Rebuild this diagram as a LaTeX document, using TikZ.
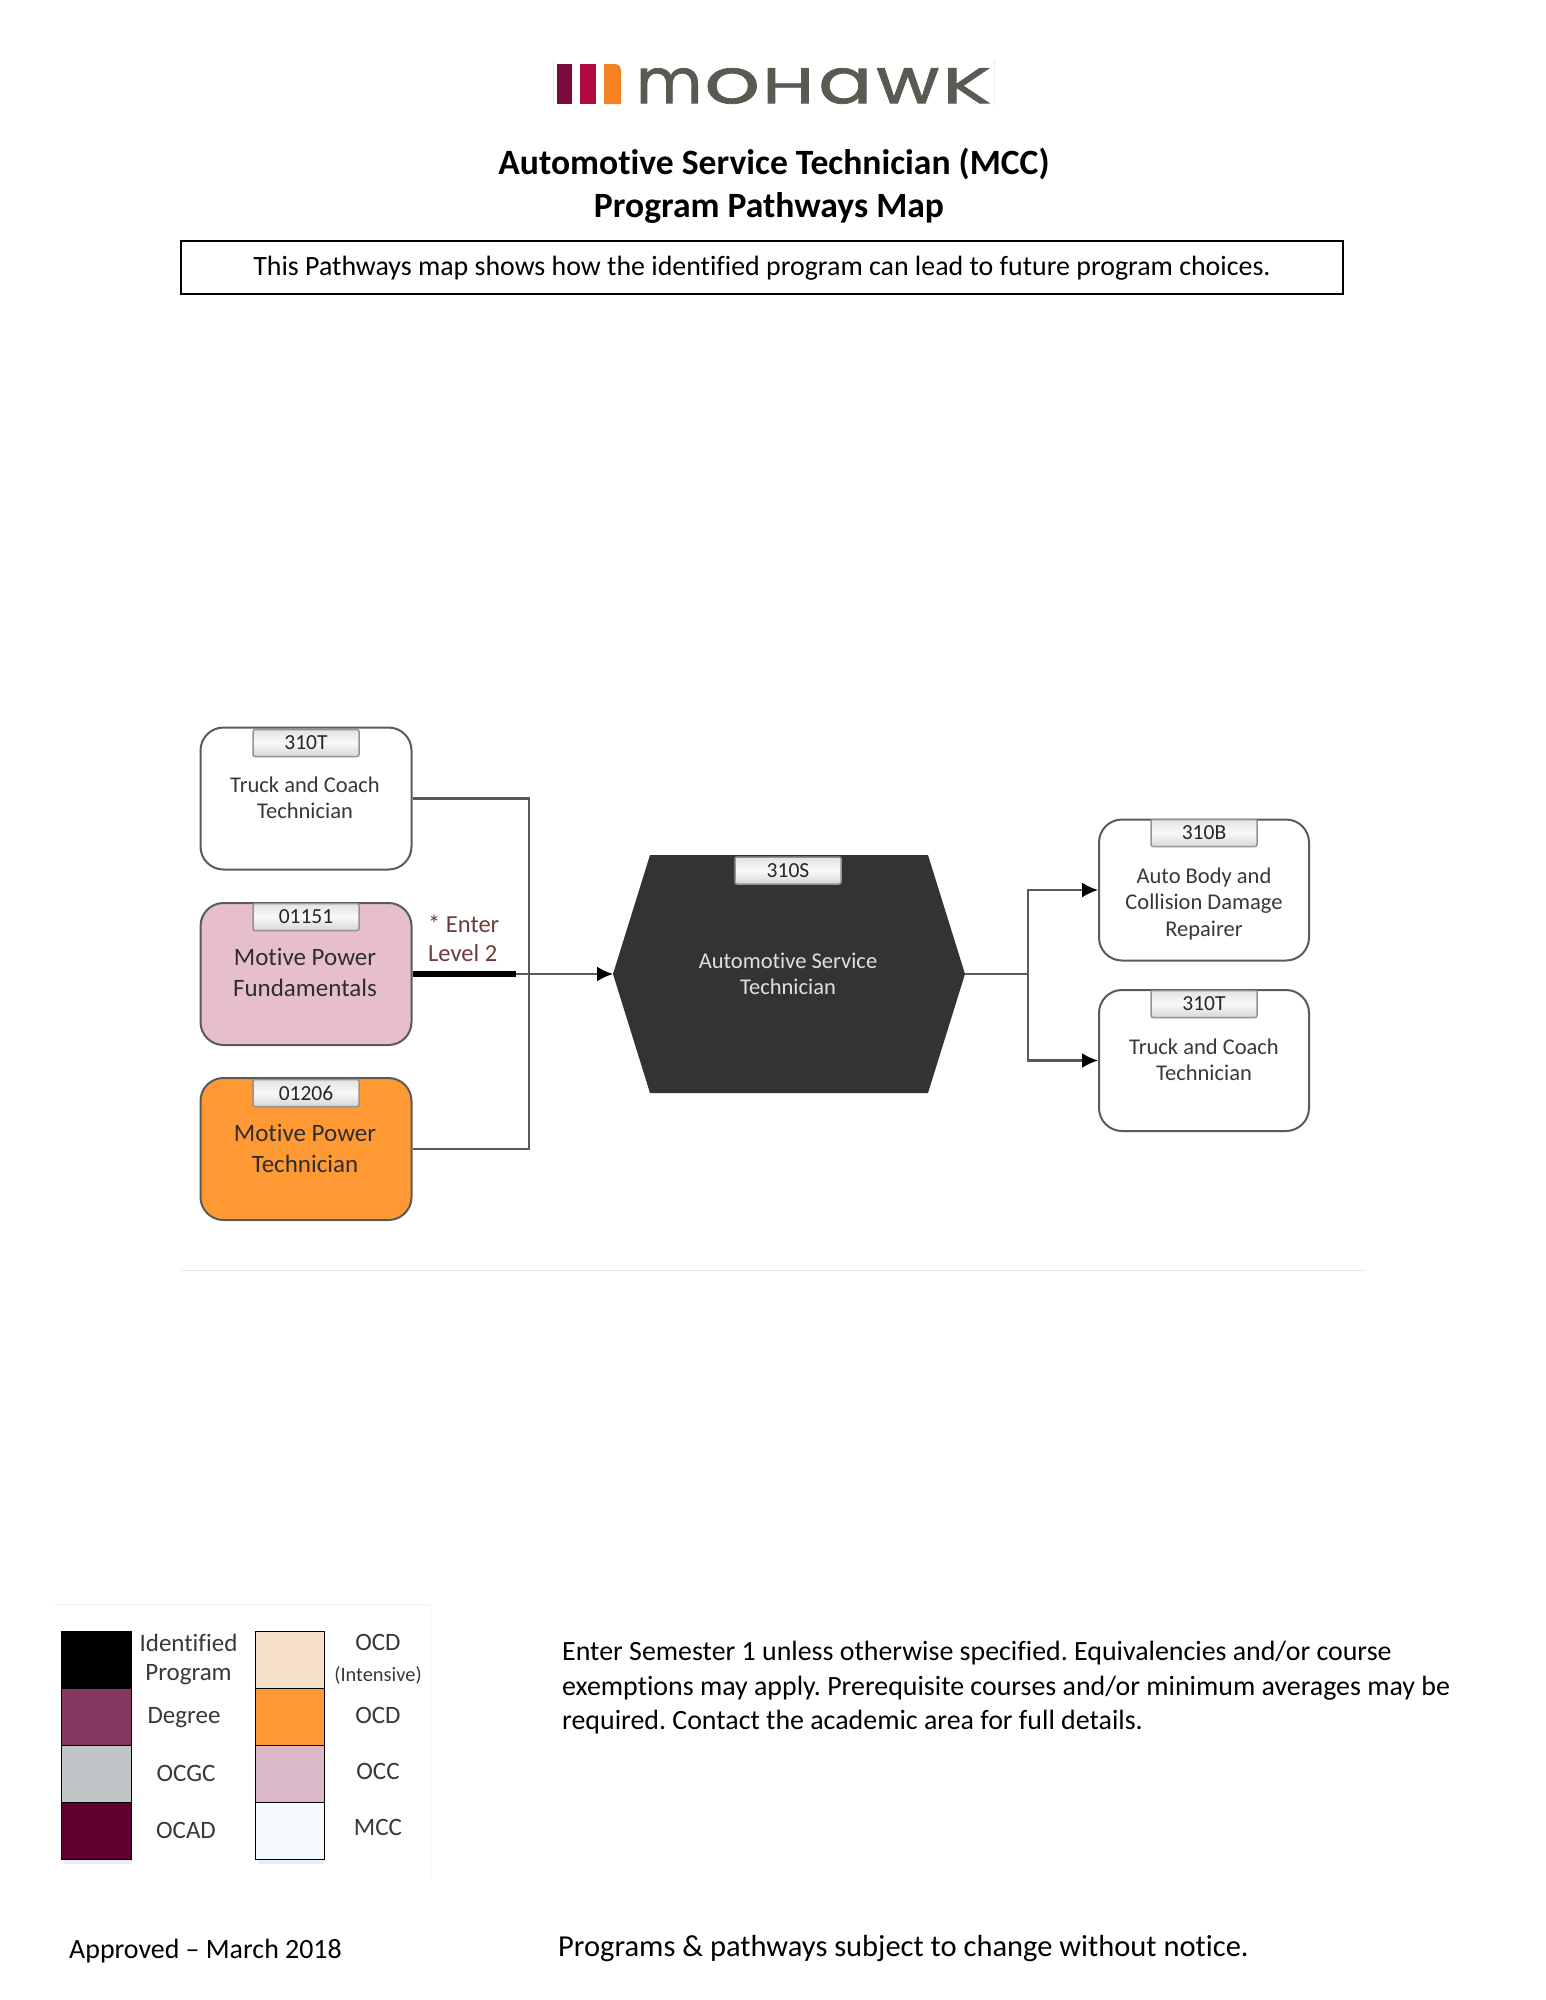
\documentclass[tikz,border=0pt]{standalone}
\usepackage{fontspec}
\usepackage{graphicx}
\setmainfont[RawFeature={-liga}]{Carlito}
\newfontfamily\logofont[FakeBold=1.2]{Poppins}
\frenchspacing
\usetikzlibrary{arrows.meta}
\definecolor{linegray}{HTML}{5A5A5A}
\definecolor{logogray}{HTML}{5B5A52}
\definecolor{logoplum}{HTML}{7A0A3C}
\definecolor{logored}{HTML}{B00A40}
\definecolor{logoorange}{HTML}{F58220}
\definecolor{fundpink}{HTML}{E6BECD}
\definecolor{techorange}{HTML}{FF9933}
\definecolor{hexdark}{HTML}{333333}
\definecolor{enterred}{HTML}{6E3B3B}
\definecolor{softblue}{HTML}{E4EEF8}
\tikzset{
  x=1pt,y=-1pt,
  progbox/.style={draw=linegray,line width=2pt,rounded corners=23pt,minimum width=211pt,minimum height=142pt,inner sep=0pt},
  tabbox/.style={draw=gray!85,line width=1.5pt,rounded corners=2pt,top color=gray!22,bottom color=gray!32,middle color=gray!5,minimum width=106pt,minimum height=27pt,inner sep=0pt,text=black!85,font=\fontsize{21.5}{21.5}\selectfont},
  boxtext/.style={align=center,inner sep=0pt,text=black!78,font=\fontsize{22.5}{26.5}\selectfont},
  bigtext/.style={align=center,inner sep=0pt,text=black!82,font=\fontsize{25}{31}\selectfont},
  flow/.style={draw=linegray,line width=2.1pt},
  flowarrow/.style={flow,-{Latex[length=16pt,width=15pt,color=black]}},
  swatch/.style={draw=black,line width=1.9pt,minimum width=70pt,minimum height=57pt,inner sep=0pt},
  legendtext/.style={inner sep=0pt,align=center,text=black!78,font=\fontsize{25}{25}\selectfont},
  bodytext/.style={inner sep=0pt,anchor=west,text=black,font=\fontsize{27.9}{27.9}\selectfont}
}
\begin{document}
\begin{tikzpicture}[x=1pt,y=-1pt]
\useasboundingbox (0,0) rectangle (1546,2000);
% logo
\draw[black!8,line width=0.8pt] (553,60) -- (553,106) (994,60) -- (994,106);
\fill[logoplum] (557,64) rectangle (572,104);
\fill[logored] (580,64) rectangle (596,104);
\fill[logoorange] (604,64) -- (614,64) .. controls (619,64) and (621,67) .. (621,71) -- (621,104) -- (604,104) -- cycle;
\node[inner sep=0pt,anchor=west,text=logogray] (logo) at (636,86) {\logofont
  \resizebox{66pt}{35pt}{m}\hspace{2pt}\resizebox{56pt}{35pt}{o}\hspace{2pt}\resizebox{52pt}{35pt}{H}\hspace{4pt}\resizebox{54pt}{35pt}{a}\hspace{4pt}\resizebox{63pt}{35pt}{w}\hspace{3pt}\resizebox{49pt}{35pt}{K}};
% titles
\node[inner sep=0pt,font=\fontsize{35.6}{35.6}\bfseries\selectfont] (t1) at (774,163.5) {Automotive Service Technician (MCC)};
\node[inner sep=0pt,font=\fontsize{35.6}{35.6}\bfseries\selectfont] (t2) at (769,208.5) {Program Pathways Map};
\node[draw=black,line width=2pt,minimum width=1162pt,minimum height=53pt,inner sep=0pt,text height=23pt,text depth=6pt,font=\fontsize{27.9}{27.9}\selectfont] (desc) at (762,267) {This Pathways map shows how the identified program can lead to future program choices.};
% left boxes
\node[progbox,fill=white] (b1) at (306,798.5) {};
\node[progbox,fill=fundpink] (b2) at (306,974) {};
\node[progbox,fill=techorange] (b3) at (306,1149) {};
\node[tabbox] (tb1) at (306,743) {310T};
\node[tabbox] (tb2) at (306,917) {01151};
\node[tabbox] (tb3) at (306,1093) {01206};
\node[boxtext] (lb1) at (305,798) {Truck and Coach\\Technician};
\node[bigtext] (lb2) at (305,972) {Motive Power\\Fundamentals};
\node[bigtext] (lb3) at (305,1148) {Motive Power\\Technician};
\node[inner sep=0pt,anchor=west,align=left,text=enterred,font=\fontsize{24.5}{29}\selectfont] (enter) at (428,938) {* Enter\\Level 2};
% hexagon
\coordinate (hexL) at (613,974);
\coordinate (hexR) at (965,974);
\fill[hexdark] (650,855) -- (928,855) -- (hexR) -- (928,1093) -- (650,1093) -- (hexL) -- cycle;
\node[tabbox] (tabhex) at (788,870.5) {310S};
\node[boxtext,text=white!88!black] (hexlabel) at (788,974) {Automotive Service\\Technician};
% right boxes
\node[progbox,minimum width=210pt,minimum height=141pt,fill=white] (r1) at (1204,890) {};
\node[progbox,minimum width=210pt,minimum height=141pt,fill=white] (r2) at (1204,1060.5) {};
\node[tabbox] (tr1) at (1204,833) {310B};
\node[tabbox] (tr2) at (1204,1004) {310T};
\node[boxtext] (lr1) at (1204,903.5) {Auto Body and\\Collision Damage\\Repairer};
\node[boxtext] (lr2) at (1204,1060) {Truck and Coach\\Technician};
% connectors
\coordinate (join) at (529,974);
\coordinate (thickend) at (516,974);
\coordinate (fork) at (1028,974);
\draw[flow] (b1.east) -| (join);
\draw[flow] (b3.east) -| (join);
\draw[flowarrow] (thickend) -- (hexL);
\draw[black,line width=6.5pt] (b2.east) -- (thickend);
\draw[flow] (hexR) -- (fork);
\draw[flowarrow] (fork) |- (r1.west);
\draw[flowarrow] (fork) |- (r2.west);
% rule
\coordinate (ruleL) at (181,1270);
\coordinate (ruleR) at (1365,1270);
\draw[black!10,line width=1pt] (ruleL) -- (ruleR);
% legend
\draw[black!5,line width=0.8pt] (54,1604) -- (430,1604) -- (430,1880);
\fill[softblue] (64,1858) rectangle (132,1864);
\fill[softblue] (258,1858) rectangle (324,1864);
\node[swatch,fill=black] (s1) at (96.5,1660) {};
\node[swatch,fill={rgb,255:red,132;green,56;blue,96}] (s2) at (96.5,1717) {};
\node[swatch,fill={rgb,255:red,192;green,196;blue,198}] (s3) at (96.5,1774) {};
\node[swatch,fill={rgb,255:red,95;green,0;blue,48}] (s4) at (96.5,1831) {};
\node[swatch,minimum width=69pt,fill={rgb,255:red,247;green,224;blue,203}] (s5) at (290,1660) {};
\node[swatch,minimum width=69pt,fill=techorange] (s6) at (290,1717) {};
\node[swatch,minimum width=69pt,fill={rgb,255:red,220;green,185;blue,201}] (s7) at (290,1774) {};
\node[swatch,minimum width=69pt,fill={rgb,255:red,246;green,250;blue,253}] (s8) at (290,1831) {};
\node[legendtext] (l1) at (188.5,1643) {Identified};
\node[legendtext] (l1b) at (188.5,1675) {Program};
\node[legendtext] (l2) at (184,1718) {Degree};
\node[legendtext] (l3) at (186,1773) {OCGC};
\node[legendtext] (l4) at (186,1830) {OCAD};
\node[legendtext] (l5) at (378,1642) {OCD};
\node[legendtext,font=\fontsize{20.4}{20.4}\selectfont] (l5b) at (378,1675) {(Intensive)};
\node[legendtext] (l6) at (378,1715) {OCD};
\node[legendtext] (l7) at (378,1771) {OCC};
\node[legendtext] (l8) at (378,1827) {MCC};
% notes
\node[bodytext,align=left,font=\fontsize{27.9}{34.5}\selectfont] (note) at (562,1688) {Enter Semester 1 unless otherwise specified. Equivalencies and/or course\\exemptions may apply. Prerequisite courses and/or minimum averages may be\\required. Contact the academic area for full details.};
\node[bodytext] (appr) at (69,1951) {Approved – March 2018};
\node[bodytext,font=\fontsize{30.5}{30.5}\selectfont] (subj) at (558,1949) {Programs \& pathways subject to change without notice.};
\end{tikzpicture}
\end{document}
